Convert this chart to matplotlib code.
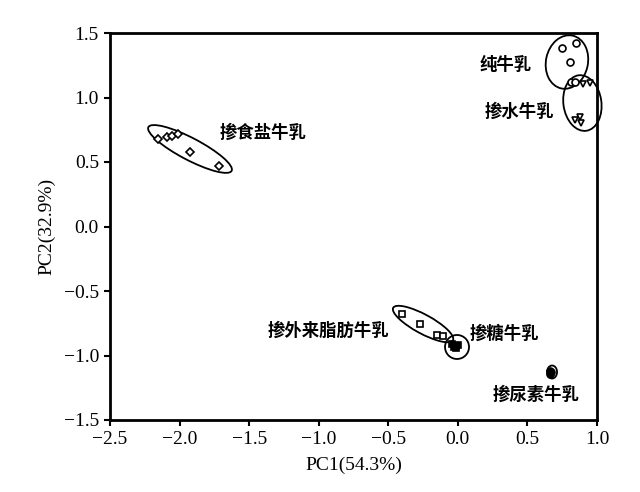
import matplotlib
matplotlib.use("Agg")
import matplotlib.pyplot as plt
from matplotlib.patches import Ellipse
from matplotlib.transforms import Affine2D

plt.rcParams['font.family'] = ['Liberation Serif', 'DejaVu Serif']
CJK = ['Noto Sans CJK SC', 'DejaVu Sans']

# PCA scores
salt_x = [-2.155, -2.09, -2.055, -2.01, -1.925, -1.72]
salt_y = [0.678, 0.694, 0.70, 0.717, 0.578, 0.469]
pure_x = [0.75, 0.85, 0.807, 0.814, 0.84]
pure_y = [1.384, 1.42, 1.275, 1.12, 1.12]
water_x = [0.90, 0.95, 0.843, 0.88, 0.885]
water_y = [1.105, 1.11, 0.826, 0.85, 0.80]
fat_x = [-0.40, -0.271, -0.149, -0.106]
fat_y = [-0.678, -0.756, -0.841, -0.845]
sugar_x = [-0.04, -0.01, 0.0, -0.03, -0.015]
sugar_y = [-0.91, -0.925, -0.92, -0.935, -0.94]
urea_x = [0.66, 0.67, 0.665]
urea_y = [-1.12, -1.13, -1.14]

# group outlines: centre (data), width/height (pixels), angle, label position
groups = [
    ('掺食盐牛乳', (-1.925, 0.601), 94, 22, -27.7, (-1.709, 0.725)),
    ('纯牛乳', (0.784, 1.275), 42, 54, -12, (0.159, 1.252)),
    ('掺水牛乳', (0.895, 0.957), 38, 56, 8, (0.19, 0.888)),
    ('掺外来脂肪牛乳', (-0.25, -0.756), 68, 19, -28.5, (-1.364, -0.81)),
    ('掺糖牛乳', (-0.006, -0.934), 24, 24, 0, (0.087, -0.833)),
    ('掺尿素牛乳', (0.677, -1.128), 10, 13, 0, (0.253, -1.306)),
]

fig = plt.figure(figsize=(6.4, 4.92), dpi=100)
ax = fig.add_axes([110/640, 1-420/492, 487/640, 387/492])
ax.set_xlim(-2.5, 1.0)
ax.set_ylim(-1.5, 1.5)

sx = 487/3.5
sy = 387/3.0

mk = dict(markersize=5, markeredgewidth=1.2, color='black', linestyle='none')
ax.plot(salt_x, salt_y, marker='D', markerfacecolor='white', markersize=4, markeredgewidth=1.2, color='black', linestyle='none')
ax.plot(pure_x, pure_y, marker='o', markerfacecolor='white', **mk)
ax.plot(water_x, water_y, marker='v', markerfacecolor='white', **mk)
ax.plot(fat_x, fat_y, marker='s', markerfacecolor='white', markersize=4.5, markeredgewidth=1.2, color='black', linestyle='none')
ax.plot(sugar_x, sugar_y, marker='s', markerfacecolor='black', **mk)
ax.plot(urea_x, urea_y, marker='o', markerfacecolor='black', **mk)

tr = Affine2D().scale(1/sx, 1/sy) + ax.transData
for name, (cx, cy), w, h, ang, (lx, ly) in groups:
    e = Ellipse((cx*sx, cy*sy), w, h, angle=ang, transform=tr,
                fill=False, edgecolor='black', linewidth=1.3, clip_on=False)
    ax.add_patch(e)
    ax.text(lx, ly, name, family=CJK, fontsize=12.5, fontweight='bold',
            ha='left', va='center')

ax.set_xticks([-2.5, -2.0, -1.5, -1.0, -0.5, 0.0, 0.5, 1.0])
ax.set_xticklabels(['\u22122.5', '\u22122.0', '\u22121.5', '\u22121.0', '\u22120.5', '0.0', '0.5', '1.0'])
ax.set_yticks([-1.5, -1.0, -0.5, 0.0, 0.5, 1.0, 1.5])
ax.set_yticklabels(['\u22121.5', '\u22121.0', '\u22120.5', '0.0', '0.5', '1.0', '1.5'])
ax.tick_params(direction='out', length=4, width=1.5, labelsize=14, pad=4)
for s in ax.spines.values():
    s.set_linewidth(2)

ax.set_xlabel('PC1(54.3%)', fontsize=14, labelpad=6)
ax.set_ylabel('PC2(32.9%)', fontsize=14, labelpad=6)

fig.savefig('out.png', dpi=100)
